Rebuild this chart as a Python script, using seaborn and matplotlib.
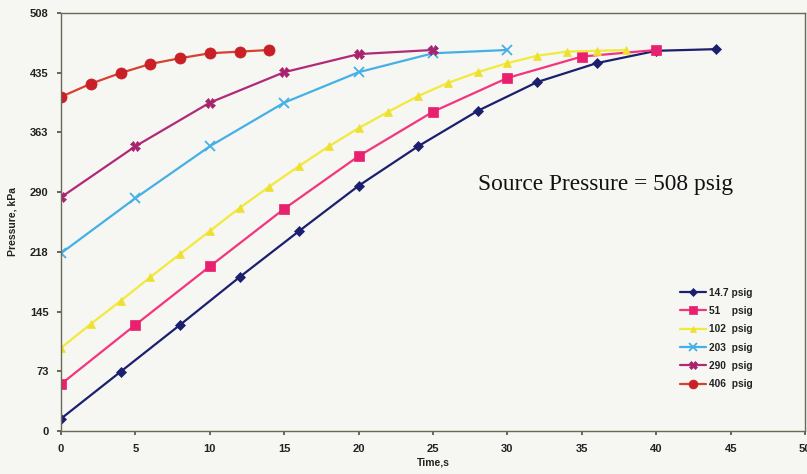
import matplotlib
matplotlib.use("Agg")
import matplotlib.pyplot as plt
import numpy as np
import pandas as pd
import seaborn as sns

# Pressure build-up for different initial pressures (source at 508 psig)
t_147 = [0, 4, 8, 12, 16, 20, 24, 28, 32, 36, 40, 44]
p_147 = [15, 72, 129, 187, 243, 298, 346, 389, 424, 447, 462, 464]

t_51 = [0, 5, 10, 15, 20, 25, 30, 35, 40]
p_51 = [57, 129, 200, 270, 334, 388, 429, 455, 463]

t_102 = [0, 2, 4, 6, 8, 10, 12, 14, 16, 18, 20, 22, 24, 26, 28, 30, 32, 34, 36, 38]
p_102 = [101, 130, 158, 187, 215, 243, 271, 297, 322, 346, 368, 388, 407, 423,
         436, 447, 456, 461, 462, 463]

t_203 = [0, 5, 10, 15, 20, 25, 30]
p_203 = [216, 283, 346, 399, 436, 459, 463]

t_290 = [0, 5, 10, 15, 20, 25]
p_290 = [284, 346, 399, 436, 458, 463]

t_406 = [0, 2, 4, 6, 8, 10, 12, 14]
p_406 = [406, 422, 435, 446, 453, 459, 461, 463]

series_labels = ["14.7 psig", "51    psig", "102  psig", "203  psig", "290  psig", "406  psig"]
y_tick_labels = ["0", "73", "145", "218", "290", "363", "435", "508"]
x_ticks = [0, 5, 10, 15, 20, 25, 30, 35, 40, 45, 50]

sns.set_theme(style="white")
plt.rcParams["font.family"] = ["Liberation Sans", "DejaVu Sans"]

bg = "#f6f6f2"
fig = plt.figure(figsize=(8.07, 4.74), dpi=100, facecolor=bg)
ax = fig.add_axes([0.0756, 0.0907, 0.922, 0.882])
ax.set_facecolor(bg)

styles = [
    (t_147, p_147, "#1c1f6e", "D", 5, "#1c1f6e"),
    (t_51, p_51, "#f2357f", "s", 7, "#e8206e"),
    (t_102, p_102, "#f2ea3a", "^", 6, "#eee030"),
    (t_203, p_203, "#45b0e6", "x", 7, "#45b0e6"),
    (t_290, p_290, "#b02a78", "X", 7, "#a8226e"),
    (t_406, p_406, "#d8402f", "o", 8, "#c82026"),
]

handles = []
for (t, p, col, mk, ms, mcol), lab in zip(styles, series_labels):
    df = pd.DataFrame({"Time": t, "Pressure": p})
    sns.lineplot(data=df, x="Time", y="Pressure", ax=ax, color=col, lw=1.6,
                 marker=mk, markersize=ms, markerfacecolor=mcol,
                 markeredgecolor=mcol, markeredgewidth=1.3 if mk == "x" else 0.5)
    handles.append(ax.lines[-1])

ax.set_xlim(0, 50)
ax.set_ylim(0, 508)
ax.set_xticks(x_ticks)
ax.set_xticklabels([str(v) for v in x_ticks])
ax.set_yticks(np.arange(8) * 508 / 7)
ax.set_yticklabels(y_tick_labels)
ax.tick_params(axis="both", labelsize=8, length=3, direction="out",
               color="#555544", pad=6, bottom=True, left=True)
for lab in ax.get_xticklabels() + ax.get_yticklabels():
    lab.set_fontweight("bold")
    lab.set_color("#222222")

for s in ax.spines.values():
    s.set_color("#6a6a58")
    s.set_linewidth(1.0)

ax.set_xlabel("Time,s", fontsize=7.5, fontweight="bold", labelpad=3, color="#222222")
ax.set_ylabel("Pressure, kPa", fontsize=7.5, fontweight="bold", labelpad=9, color="#222222")

ax.text(36.6, 299, "Source Pressure = 508 psig", family="Liberation Serif",
        fontsize=16.8, ha="center", va="center", color="#111111")

leg = ax.legend(handles, series_labels, loc="upper left",
                bbox_to_anchor=(0.832, 0.343), frameon=False,
                handlelength=2.6, labelspacing=0.82, handletextpad=0.25,
                borderaxespad=0, borderpad=0, markerscale=0.8,
                prop={"weight": "bold", "size": 7.3})
for txt in leg.get_texts():
    txt.set_color("#222222")

fig.savefig("out.png", dpi=100, facecolor=bg)
